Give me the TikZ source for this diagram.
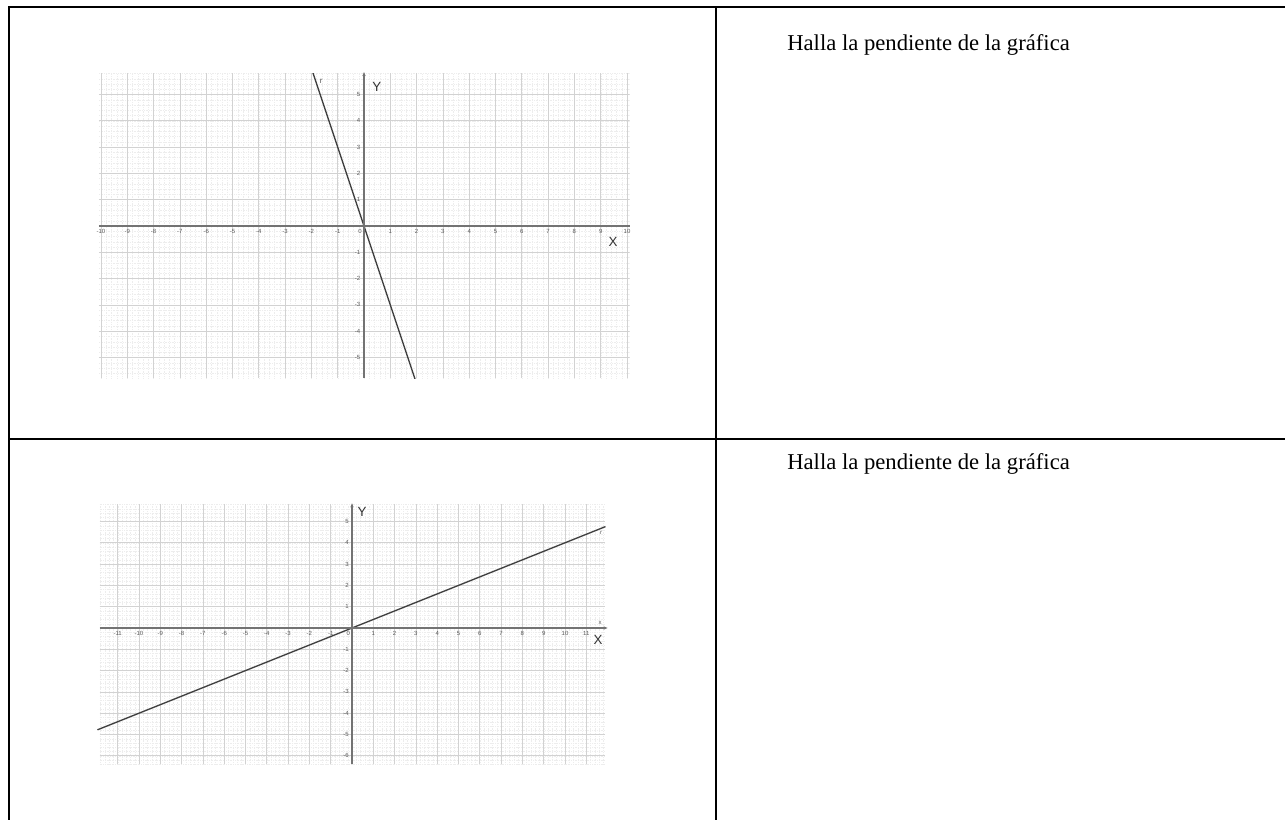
\documentclass[tikz,border=0pt]{standalone}
\usepackage{fontspec}
\setmainfont{Liberation Serif}
\setsansfont{Liberation Sans}
\usetikzlibrary{arrows.meta}

\begin{document}
\begin{tikzpicture}[x=0.75pt, y=0.75pt, >={Stealth[length=3pt,width=2.5pt]},
    tablerule/.style={line width=1.5pt},
    minorgrid/.style={gray!14, line width=0.3pt, densely dotted},
    majorgrid/.style={gray!35, line width=0.5pt},
    axisline/.style={black!55, line width=1.1pt},
    plotline/.style={black!75, line width=1pt},
    ticklab/.style={font=\sffamily\fontsize{4.5}{5}\selectfont, text=black!65, inner sep=0.6pt},
    axislab/.style={font=\sffamily\fontsize{10}{12}\selectfont, text=black!80, inner sep=0pt},
    prompt/.style={font=\fontsize{17}{20}\selectfont, anchor=base west, inner sep=0pt}]

\useasboundingbox (0,0) rectangle (1285,820);

% table rules
\draw[tablerule] (8.5,0) -- (8.5,812.5) -- (1285,812.5);
\draw[tablerule] (716,0) -- (716,812.5);
\draw[tablerule] (8.5,381) -- (1285,381);

\node[prompt] (q1) at (787,769) {Halla la pendiente de la gráfica};
\node[prompt] (q2) at (787,350) {Halla la pendiente de la gráfica};

% first graph
\begin{scope}[shift={(364,594)}, x=19.725pt, y=19.725pt]
  \begin{scope}
    \clip (-10.08,-5.78) rectangle (10.1,5.8);
    \foreach \i in {-50,...,50} {
      \draw[minorgrid] (\i/5,-5.78) -- (\i/5,5.8);
    }
    \foreach \j in {-28,...,29} {
      \draw[minorgrid] (-10.08,\j/5) -- (10.1,\j/5);
    }
    \foreach \i in {-10,...,10} {
      \draw[majorgrid] (\i,-5.78) -- (\i,5.8);
    }
    \foreach \j in {-5,...,5} {
      \draw[majorgrid] (-10.08,\j) -- (10.1,\j);
    }
    \draw[plotline] (-2,6) -- (2,-6);
  \end{scope}
  \draw[axisline] (-10.08,0) -- (10.1,0);
  \draw[axisline,->] (0,-5.78) -- (0,5.85);
  \foreach \i in {-10,...,-1} {
    \node[ticklab, below] (g1x\i) at (\i,-0.1) {\i};
  }
  \foreach \i in {1,...,10} {
    \node[ticklab, below] (g1x\i) at (\i,-0.1) {\i};
  }
  \foreach \j in {-5,...,-1} {
    \node[ticklab, left] (g1y\j) at (-0.1,\j) {\j};
  }
  \foreach \j in {1,...,5} {
    \node[ticklab, left] (g1y\j) at (-0.1,\j) {\j};
  }
  \node[ticklab, below left] (g1o) at (-0.05,-0.1) {0};
  \node[axislab] (g1X) at (9.47,-0.61) {X};
  \node[axislab] (g1Y) at (0.49,5.29) {Y};
  \node[ticklab, font=\sffamily\fontsize{6}{6}\selectfont] (g1r) at (-1.63,5.5) {r};
\end{scope}

% second graph
\begin{scope}[shift={(352,192)}, x=15.975pt, y=15.975pt]
  \begin{scope}
    \clip (-11.85,-6.4) rectangle (11.9,5.8);
    \foreach \i in {-59,...,59} {
      \draw[minorgrid] (\i/5,-6.4) -- (\i/5,5.8);
    }
    \foreach \j in {-32,...,29} {
      \draw[minorgrid] (-11.85,\j/5) -- (11.9,\j/5);
    }
    \foreach \i in {-11,...,11} {
      \draw[majorgrid] (\i,-6.4) -- (\i,5.8);
    }
    \foreach \j in {-6,...,5} {
      \draw[majorgrid] (-11.85,\j) -- (11.9,\j);
    }
  \end{scope}
  \draw[plotline] (-11.95,-4.78) -- (11.9,4.76);
  \draw[axisline,->] (-11.85,0) -- (12.0,0);
  \draw[axisline,->] (0,-6.4) -- (0,5.85);
  \foreach \i in {-11,...,-1} {
    \node[ticklab, below] (g2x\i) at (\i,-0.1) {\i};
  }
  \foreach \i in {1,...,11} {
    \node[ticklab, below] (g2x\i) at (\i,-0.1) {\i};
  }
  \foreach \j in {-6,...,-1} {
    \node[ticklab, left] (g2y\j) at (-0.1,\j) {\j};
  }
  \foreach \j in {1,...,5} {
    \node[ticklab, left] (g2y\j) at (-0.1,\j) {\j};
  }
  \node[ticklab, below left] (g2o) at (-0.05,-0.1) {0};
  \node[axislab] (g2X) at (11.55,-0.56) {X};
  \node[axislab] (g2Y) at (0.47,5.45) {Y};
  \node[ticklab] (g2x) at (11.65,0.22) {x};
  \node[ticklab] (g2r) at (11.7,4.46) {r};
\end{scope}
\end{tikzpicture}
\end{document}
